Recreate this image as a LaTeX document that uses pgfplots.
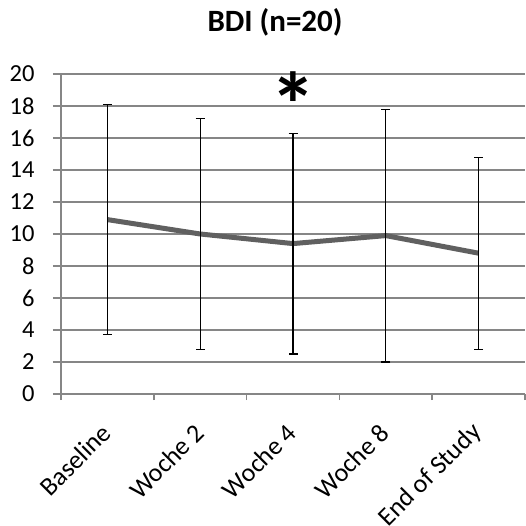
\documentclass[border=0pt]{standalone}
\usepackage{pgfplots}
\pgfplotsset{compat=1.18}
\usepackage{fontspec}
\setmainfont{Carlito}
\definecolor{linegray}{RGB}{96,96,96}
\definecolor{gridgray}{RGB}{134,134,134}
\begin{document}
\begin{tikzpicture}
\path[use as bounding box] (-61pt,-132pt) rectangle (464pt,394pt);
\begin{axis}[
  scale only axis,
  width=464pt, height=320pt,
  xmin=-0.5, xmax=4.5,
  ymin=0, ymax=20,
  ytick={0,2,...,20},
  xtick={0,1,2,3,4},
  xticklabels={Baseline,Woche 2,Woche 4,Woche 8,End of Study},
  minor xtick={-0.5,0.5,1.5,2.5,3.5,4.5},
  axis x line*=bottom,
  axis y line*=left,
  axis line style={-, draw=gridgray, line width=1.5pt},
  ymajorgrids,
  grid style={draw=gridgray, line width=1.5pt},
  tick align=outside,
  major tick length=8pt,
  minor tick length=6pt,
  major x tick style={draw=none},
  minor x tick style={draw=gridgray, line width=1.5pt},
  major y tick style={draw=gridgray, line width=1.5pt},
  /pgf/number format/assume math mode=true,
  tick label style={font=\fontsize{24.5}{30}\selectfont, black},
  yticklabel style={xshift=-15pt},
  xticklabel style={rotate=45, anchor=east, font=\fontsize{26}{30}\selectfont, xshift=-16pt, yshift=-18pt},
  clip=false,
]
\addplot[linegray, line width=5pt,
  error bars/.cd, y dir=both, y explicit,
  error bar style={black, line width=1.2pt},
  error mark options={black, rotate=90, mark size=4.5pt, line width=1.2pt}]
  coordinates {
  (0,10.9) +- (0,7.2)
  (1,10.0) +- (0,7.2)
  (2,9.4) +- (0,6.9)
  (3,9.9) +- (0,7.9)
  (4,8.8) +- (0,6.0)
  };
\node[font=\fontsize{92}{92}\selectfont\bfseries, anchor=base] at (axis cs:2,16.0) {*};
\end{axis}
\node[anchor=base, font=\fontsize{31}{36}\selectfont\bfseries] at (214pt,362pt) {BDI (n=20)};
\end{tikzpicture}
\end{document}
